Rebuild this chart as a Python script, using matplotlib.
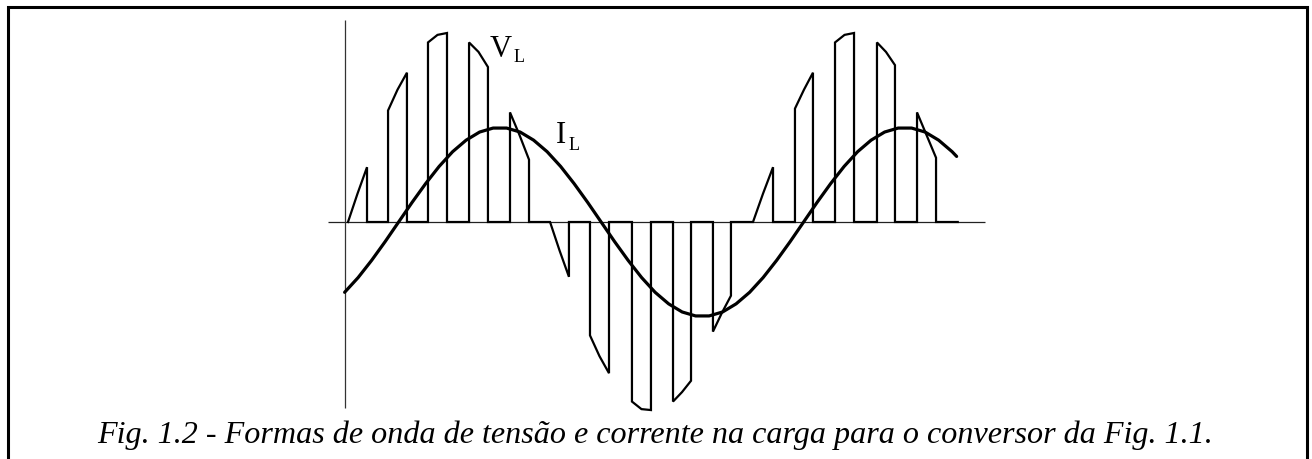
import matplotlib
matplotlib.use("Agg")
import matplotlib.pyplot as plt
from matplotlib.patches import Rectangle

# Load voltage V_L: PWM pulses (angle in degrees, amplitude in per-unit)
pulse_on = [0.0, 35.6, 71.1, 107.6, 144.0,
            179.6, 215.1, 252.4, 288.9, 324.4,
            360.0, 397.3, 432.9, 470.2, 505.8]
pulse_off = [16.9, 52.4, 88.0, 124.4, 160.9,
             196.4, 232.0, 269.3, 304.9, 340.4,
             377.8, 413.3, 449.8, 486.2, 522.7]
top_on = [0.00, 0.59, 0.95, 0.95, 0.58,
          0.00, -0.60, -0.95, -0.95, -0.58,
          0.00, 0.60, 0.95, 0.95, 0.58]
top_mid = [0.15, 0.70, 0.99, 0.90, 0.46,
           -0.15, -0.71, -0.99, -0.90, -0.48,
           0.15, 0.70, 0.99, 0.90, 0.46]
top_off = [0.29, 0.79, 1.00, 0.82, 0.33,
           -0.29, -0.80, -0.995, -0.84, -0.39,
           0.29, 0.79, 1.00, 0.83, 0.34]
v_end = 542.0

# Load current I_L
i_angle = [-3, 9, 21, 33, 45, 57, 69, 81, 93, 105, 117, 129, 141, 153, 165,
           177, 189, 201, 213, 225, 237, 249, 261, 273, 285, 297, 309, 321,
           333, 345, 357, 369, 381, 393, 405, 417, 429, 441, 453, 465, 477,
           489, 501, 513, 525, 537, 541]
i_value = [-0.372, -0.294, -0.203, -0.104, 0.000, 0.104, 0.203, 0.294, 0.372,
           0.433, 0.476, 0.497, 0.497, 0.476, 0.433, 0.372, 0.294, 0.203,
           0.104, 0.000, -0.104, -0.203, -0.294, -0.372, -0.433, -0.476,
           -0.497, -0.497, -0.476, -0.433, -0.372, -0.294, -0.203, -0.104,
           0.000, 0.104, 0.203, 0.294, 0.372, 0.433, 0.476, 0.497, 0.497,
           0.476, 0.433, 0.372, 0.347]

caption = "Fig. 1.2 - Formas de onda de tensão e corrente na carga para o conversor da Fig. 1.1."

W, H = 1312, 459
fig = plt.figure(figsize=(W / 100, H / 100), dpi=100)

# axes placement (pixels): 1 degree = 1.125 px, 1 p.u. = 189 px, origin at (348, 222)
xlim = (-20.0, 570.0)
ylim = (-1.05, 1.10)
px_deg, px_pu, x0, y0 = 1.125, 189.0, 348.0, 222.0
left = x0 + xlim[0] * px_deg
right = x0 + xlim[1] * px_deg
top = y0 - ylim[1] * px_pu
bottom = y0 - ylim[0] * px_pu
ax = fig.add_axes([left / W, (H - bottom) / H, (right - left) / W, (bottom - top) / H])
ax.set_xlim(*xlim)
ax.set_ylim(*ylim)
ax.axis("off")

# coordinate axes
ax.plot([-17.8, 566.0], [0, 0], color="#222222", lw=0.9, solid_capstyle="butt")
ax.plot([-2.7, -2.7], [-0.984, 1.069], color="#333333", lw=0.9, solid_capstyle="butt")

# build V_L outline
vx, vy = [], []
for on, off, a, m, b in zip(pulse_on, pulse_off, top_on, top_mid, top_off):
    vx += [on, on, (on + off) / 2, off, off]
    vy += [0, a, m, b, 0]
vx.append(v_end)
vy.append(0)
ax.plot(vx, vy, color="black", lw=1.6, solid_joinstyle="miter")

# I_L
ax.plot(i_angle, i_value, color="black", lw=2.3, solid_capstyle="round")

serif = ["Liberation Serif", "DejaVu Serif"]
ax.text(126.2, 0.873, "V", fontsize=22, family=serif, ha="left", va="baseline")
ax.text(147.5, 0.847, "L", fontsize=13, family=serif, ha="left", va="baseline")
ax.text(184.9, 0.418, "I", fontsize=22, family=serif, ha="left", va="baseline")
ax.text(196.4, 0.381, "L", fontsize=13, family=serif, ha="left", va="baseline")

fig.text(655 / W, (H - 443) / H, caption, fontsize=23.1, family=serif,
         style="italic", ha="center", va="baseline")

# outer frame
fig.add_artist(Rectangle((8 / W, -0.02), (1307 - 8) / W, (H - 7) / H + 0.02,
                         transform=fig.transFigure, fill=False,
                         edgecolor="black", lw=2.2))

fig.savefig("out.png", dpi=100)
